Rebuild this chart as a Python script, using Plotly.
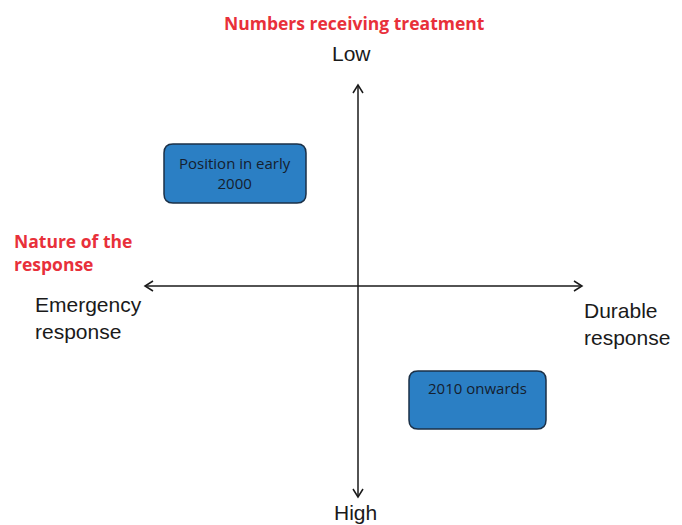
import plotly.graph_objects as go

# Diagram coordinates (canvas units, y grows downward)
axis_centre = [358, 286]
v_axis_ends = [85, 497]
h_axis_ends = [145, 582]

box_labels = ["Position in early<br>2000", "2010 onwards"]
box_x0 = [164, 409]
box_x1 = [306, 546]
box_y0 = [144, 371]
box_y1 = [203, 429]
box_text_y = [173, 388]

axis_title_y = "Numbers receiving treatment"
axis_title_x = "Nature of the<br>response"
pole_labels = ["Low", "High", "Emergency<br>response", "Durable<br>response"]

BOX_FILL = "#2b7fc4"
BOX_LINE = "#1b3047"
RED = "#e8303a"
INK = "#1a1a1a"

fig = go.Figure()
fig.add_trace(go.Scatter(x=[0, 682], y=[0, 525], mode="markers",
                         marker=dict(opacity=0), hoverinfo="skip", showlegend=False))

shapes = []
cx, cy = axis_centre
shapes.append(dict(type="line", x0=cx, x1=cx, y0=v_axis_ends[0], y1=v_axis_ends[1],
                   line=dict(color=INK, width=1.5)))
shapes.append(dict(type="line", x0=h_axis_ends[0], x1=h_axis_ends[1], y0=cy, y1=cy,
                   line=dict(color=INK, width=1.5)))
L, W = 8, 5
t = v_axis_ends[0]; b = v_axis_ends[1]; l = h_axis_ends[0]; r = h_axis_ends[1]
heads = [
    f"M {cx-W},{t+L} L {cx},{t} L {cx+W},{t+L}",
    f"M {cx-W},{b-L} L {cx},{b} L {cx+W},{b-L}",
    f"M {l+L},{cy-W} L {l},{cy} L {l+L},{cy+W}",
    f"M {r-L},{cy-W} L {r},{cy} L {r-L},{cy+W}",
]
for p in heads:
    shapes.append(dict(type="path", path=p, line=dict(color=INK, width=1.5)))

rad = 9
for x0, x1, y0, y1 in zip(box_x0, box_x1, box_y0, box_y1):
    p = (f"M {x0+rad},{y0} L {x1-rad},{y0} Q {x1},{y0} {x1},{y0+rad} "
         f"L {x1},{y1-rad} Q {x1},{y1} {x1-rad},{y1} L {x0+rad},{y1} "
         f"Q {x0},{y1} {x0},{y1-rad} L {x0},{y0+rad} Q {x0},{y0} {x0+rad},{y0} Z")
    shapes.append(dict(type="path", path=p, fillcolor=BOX_FILL,
                       line=dict(color=BOX_LINE, width=1.5), layer="above"))

annotations = []
for lab, x0, x1, ty in zip(box_labels, box_x0, box_x1, box_text_y):
    annotations.append(dict(x=(x0 + x1) / 2, y=ty, text=lab, showarrow=False,
                            font=dict(family="Open Sans", size=15, color="#15202e"),
                            xanchor="center", yanchor="middle"))

annotations.append(dict(x=cx - 4, y=23, text=axis_title_y, showarrow=False,
                        font=dict(family="Open Sans", size=17.5, color=RED, weight="bold"),
                        xanchor="center", yanchor="middle"))
annotations.append(dict(x=12, y=252, text=axis_title_x, showarrow=False, align="left",
                        font=dict(family="Open Sans", size=17.5, color=RED, weight="bold"),
                        xanchor="left", yanchor="middle"))

pole_pos = [(351, 53, "center"), (355, 512, "center"), (33, 318, "left"), (582, 324, "left")]
for lab, (px, py, anc) in zip(pole_labels, pole_pos):
    annotations.append(dict(x=px, y=py, text=lab, showarrow=False, align="left",
                            font=dict(family="Liberation Sans", size=21, color=INK),
                            xanchor=anc, yanchor="middle"))

# the page body adds an 8px offset; shift the canvas ranges to compensate
OFF = 8
fig.update_layout(
    width=682, height=525, margin=dict(l=0, r=0, t=0, b=0),
    plot_bgcolor="white", paper_bgcolor="white",
    xaxis=dict(range=[OFF, 682 + OFF], visible=False, fixedrange=True),
    yaxis=dict(range=[525 + OFF, OFF], visible=False, fixedrange=True),
    shapes=shapes, annotations=annotations, showlegend=False,
)
fig.write_html("out.html")
